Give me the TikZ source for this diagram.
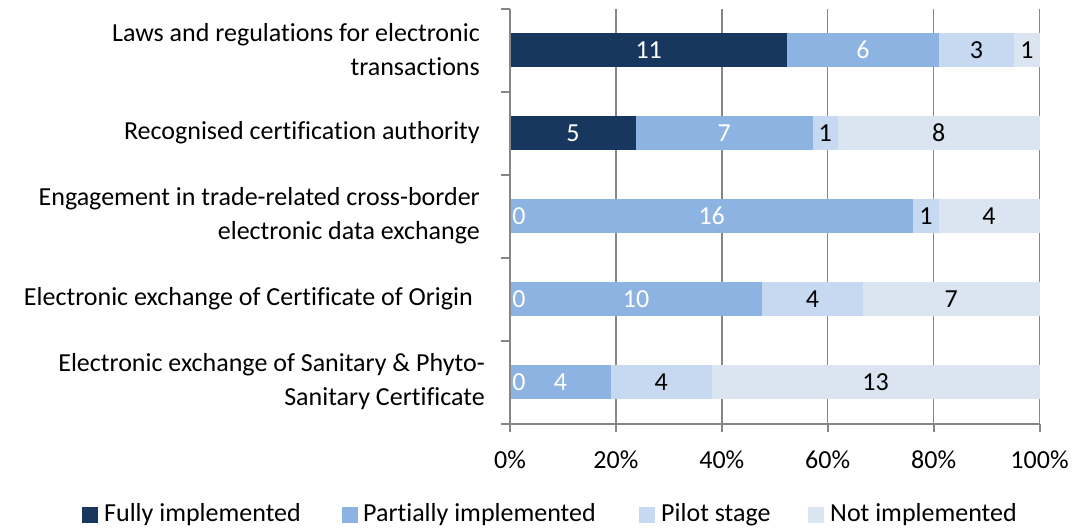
\documentclass[tikz,border=0pt]{standalone}
\usepackage{fontspec}
\setmainfont[Ligatures=NoCommon]{Carlito}
\definecolor{cFull}{HTML}{17375E}
\definecolor{cPart}{HTML}{8DB3E2}
\definecolor{cPilot}{HTML}{C6D9F1}
\definecolor{cNot}{HTML}{DBE5F1}
\definecolor{axisgray}{HTML}{868686}
\begin{document}
\begin{tikzpicture}[x=1pt,y=-1pt,
  font=\fontsize{26}{34}\selectfont,
  gridline/.style={draw=axisgray,line width=1.5pt},
  axisline/.style={draw=axisgray,line width=2pt},
  vlabel/.style={inner sep=0pt},
  catlabel/.style={anchor=east,align=right,inner sep=0pt},
  legbox/.style={minimum size=16pt,inner sep=0pt},
  legtext/.style={anchor=west,inner sep=0pt}]
\useasboundingbox (0,0) rectangle (1073,529);
% grid
\foreach \p in {1,...,5}{
  \draw[gridline] ({510+105.9*\p},9) -- ({510+105.9*\p},424);
}
% bars
\foreach \r/\a/\b/\c/\d in {0/11/6/3/1, 1/5/7/1/8, 2/0/16/1/4, 3/0/10/4/7, 4/0/4/4/13}{
  \pgfmathsetmacro\t{\a+\b+\c+\d}
  \pgfmathsetmacro\xa{510+529.5*\a/\t}
  \pgfmathsetmacro\xb{510+529.5*(\a+\b)/\t}
  \pgfmathsetmacro\xc{510+529.5*(\a+\b+\c)/\t}
  \pgfmathsetmacro\yt{33+83*\r}
  \pgfmathsetmacro\yb{67+83*\r}
  \pgfmathsetmacro\ym{50+83*\r}
  \fill[cFull] (510,\yt) rectangle (\xa,\yb);
  \fill[cPart] (\xa,\yt) rectangle (\xb,\yb);
  \fill[cPilot] (\xb,\yt) rectangle (\xc,\yb);
  \fill[cNot] (\xc,\yt) rectangle (1039.5,\yb);
  \ifnum\a=0
    \node[vlabel,text=white] (v\r a) at (519,\ym) {0};
  \else
    \node[vlabel,text=white] (v\r a) at ({(510+\xa)/2},\ym) {\a};
  \fi
  \node[vlabel,text=white] (v\r b) at ({(\xa+\xb)/2},\ym) {\b};
  \node[vlabel,text=black] (v\r c) at ({(\xb+\xc)/2},\ym) {\c};
  \node[vlabel,text=black] (v\r d) at ({(\xc+1039.5)/2},\ym) {\d};
}
% axes
\draw[axisline] (510,9) -- (510,424);
\draw[axisline] (501,424) -- (1040,424);
\foreach \k in {0,...,4}{
  \draw[axisline] (501,{9+83*\k}) -- (510,{9+83*\k});
}
\foreach \k in {0,...,5}{
  \draw[axisline] ({510+105.9*\k},424) -- ({510+105.9*\k},432);
  \pgfmathtruncatemacro\pc{20*\k}
  \node[inner sep=0pt] (tick\k) at ({510+105.9*\k},460) {\pc\%};
}
% category labels
\node[catlabel] (cat0) at (480,50) {Laws and regulations for electronic\\transactions};
\node[catlabel] (cat1) at (480,133) {Recognised certification authority};
\node[catlabel] (cat2) at (480,216) {Engagement in trade-related cross-border\\electronic data exchange};
\node[catlabel] (cat3) at (473,299) {Electronic exchange of Certificate of Origin};
\node[catlabel] (cat4) at (485,382) {Electronic exchange of Sanitary \& Phyto-\\Sanitary Certificate};
% legend
\node[legbox,fill=cFull] (lb1) at (90,515) {};
\node[legtext] (lt1) at (104,515) {Fully implemented};
\node[legbox,fill=cPart] (lb2) at (350,515) {};
\node[legtext] (lt2) at (363,515) {Partially implemented};
\node[legbox,fill=cPilot] (lb3) at (647,515) {};
\node[legtext] (lt3) at (661,515) {Pilot stage};
\node[legbox,fill=cNot] (lb4) at (816,515) {};
\node[legtext] (lt4) at (830,515) {Not implemented};
\end{tikzpicture}
\end{document}
